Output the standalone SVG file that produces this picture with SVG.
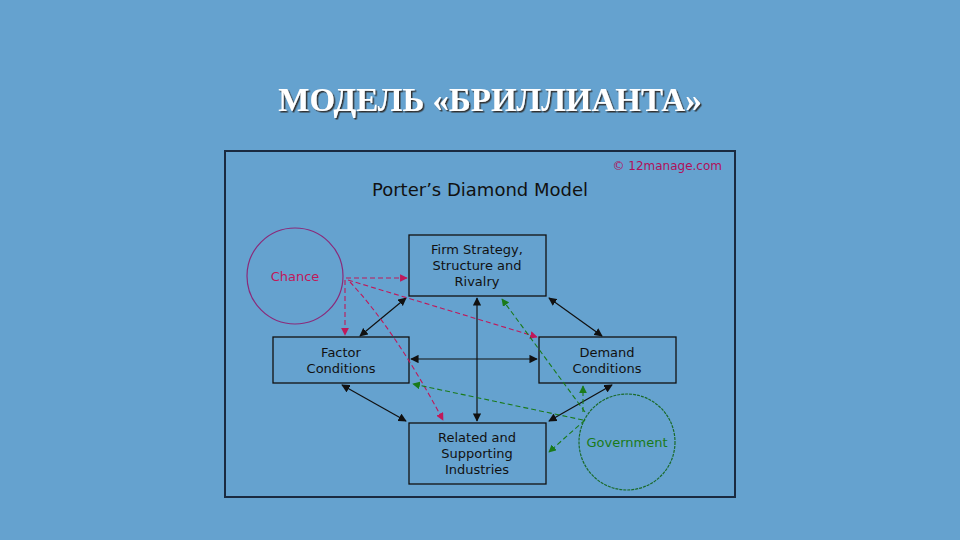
<svg xmlns="http://www.w3.org/2000/svg" width="960" height="540" viewBox="0 0 960 540">
<defs>
<marker id="ab" viewBox="0 0 10 10" refX="9" refY="5" markerWidth="7" markerHeight="7" orient="auto-start-reverse"><path d="M0,0L10,5L0,10z" fill="#111"/></marker>
<marker id="am" viewBox="0 0 10 10" refX="9" refY="5" markerWidth="7" markerHeight="7" orient="auto"><path d="M0,0L10,5L0,10z" fill="#c0185a"/></marker>
<marker id="ag" viewBox="0 0 10 10" refX="9" refY="5" markerWidth="7" markerHeight="7" orient="auto"><path d="M0,0L10,5L0,10z" fill="#1a7a1a"/></marker>
<filter id="sh"><feDropShadow dx="1.5" dy="1.5" stdDeviation="0.5" flood-color="#333"/></filter>
</defs>
<style>
.box{fill:none;stroke:#111;stroke-width:1.3}
.t{font-family:Verdana,"DejaVu Sans",sans-serif;font-size:13px;fill:#111;text-anchor:middle}
.b{stroke:#111;stroke-width:1.2;fill:none;marker-start:url(#ab);marker-end:url(#ab)}
.m{stroke:#c0185a;stroke-width:1.1;stroke-dasharray:5 3;fill:none;marker-end:url(#am)}
.g{stroke:#1a7a1a;stroke-width:1.1;stroke-dasharray:5 3;fill:none;marker-end:url(#ag)}
</style>
<rect width="960" height="540" fill="#65a2cf"/>
<text x="490" y="111" font-family="Liberation Serif,serif" font-size="33" font-weight="bold" fill="#fff" text-anchor="middle" filter="url(#sh)">МОДЕЛЬ «БРИЛЛИАНТА»</text>
<rect x="225" y="151" width="510" height="346" fill="none" stroke="#1a2a40" stroke-width="2"/>
<text x="722" y="170" font-family="Verdana,DejaVu Sans,sans-serif" font-size="12" fill="#b0105a" text-anchor="end">© 12manage.com</text>
<text x="480" y="196" class="t" style="font-size:18px">Porter’s Diamond Model</text>
<g id="chance"><circle cx="295" cy="276" r="48" fill="none" stroke="#8a2a7a" stroke-width="1.2"/><text x="295" y="281" class="t" style="fill:#c0185a">Chance</text></g>
<g id="government"><circle cx="627" cy="442" r="48" fill="none" stroke="#1a6a2a" stroke-width="1.2" stroke-dasharray="3 1"/><text x="627" y="447" class="t" style="fill:#1a7a1a">Government</text></g>
<g id="firm"><rect class="box" x="409" y="235" width="137" height="61"/><text class="t" x="477" y="254">Firm Strategy,</text><text class="t" x="477" y="270">Structure and</text><text class="t" x="477" y="286">Rivalry</text></g>
<g id="factor"><rect class="box" x="273" y="337" width="136" height="46"/><text class="t" x="341" y="357">Factor</text><text class="t" x="341" y="373">Conditions</text></g>
<g id="demand"><rect class="box" x="539" y="337" width="137" height="46"/><text class="t" x="607" y="357">Demand</text><text class="t" x="607" y="373">Conditions</text></g>
<g id="related"><rect class="box" x="409" y="423" width="137" height="61"/><text class="t" x="477" y="442">Related and</text><text class="t" x="477" y="458">Supporting</text><text class="t" x="477" y="474">Industries</text></g>
<g id="connectors">
<line class="b" x1="406" y1="298" x2="360" y2="336"/>
<line class="b" x1="549" y1="298" x2="602" y2="336"/>
<line class="b" x1="411" y1="359" x2="537" y2="359"/>
<line class="b" x1="477" y1="298" x2="477" y2="421"/>
<line class="b" x1="342" y1="385" x2="406" y2="421"/>
<line class="b" x1="612" y1="385" x2="549" y2="421"/>
<line class="m" x1="346" y1="278" x2="407" y2="278"/>
<line class="m" x1="345" y1="280" x2="345" y2="335"/>
<path class="m" d="M348,280 L537,337"/>
<path class="m" d="M350,282 Q395,330 443,420"/>
<line class="g" x1="585" y1="412" x2="502" y2="299"/>
<line class="g" x1="583" y1="420" x2="413" y2="384"/>
<line class="g" x1="583" y1="412" x2="583" y2="386"/>
<line class="g" x1="585" y1="420" x2="549" y2="452"/>
</g>
</svg>
